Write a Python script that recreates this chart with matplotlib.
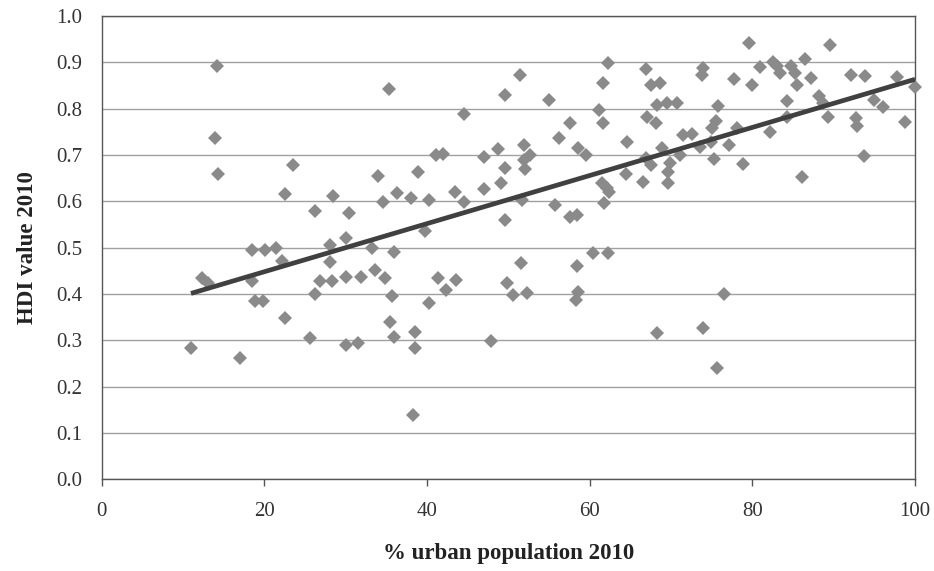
import numpy as np
import matplotlib
matplotlib.use("Agg")
import matplotlib.pyplot as plt

# % urban population 2010 (x) and HDI value 2010 (y)
urban_pct = [
    11.0, 12.3, 13.1, 14.2, 13.9, 14.3, 17.0, 18.5, 18.5, 18.9,
    19.9, 20.1, 21.4, 22.2, 22.6, 22.6, 23.5, 25.6, 26.3, 26.3,
    26.9, 28.1, 28.1, 28.5, 28.3, 30.0, 30.1, 30.4, 30.1, 31.5,
    31.9, 33.2, 33.6, 34.9, 34.0, 34.6, 35.3, 35.7, 35.4, 35.9,
    36.0, 36.3, 38.0, 38.5, 38.5, 38.3, 38.9, 39.8, 40.2, 40.2,
    41.1, 42.0, 41.4, 42.3, 43.6, 43.5, 44.5, 44.6, 47.0, 47.0,
    48.7, 49.1, 49.6, 49.6, 49.6, 49.9, 50.6, 51.6, 52.3, 51.5,
    51.9, 52.7, 51.9, 52.1, 51.7, 47.9, 55.0, 55.8, 56.2, 57.6,
    57.6, 58.5, 58.6, 59.6, 58.5, 60.4, 62.3, 58.6, 58.3, 61.1,
    61.6, 62.2, 61.7, 61.5, 62.1, 62.4, 61.8, 64.6, 64.5, 66.9,
    67.6, 68.7, 67.0, 68.2, 68.3, 69.5, 70.8, 66.6, 66.9, 67.5,
    68.9, 69.9, 69.6, 69.6, 71.1, 71.5, 72.6, 73.6, 73.9, 73.8,
    74.9, 75.0, 75.5, 75.3, 75.8, 77.1, 78.1, 77.7, 78.8, 79.6,
    79.9, 80.9, 82.2, 82.6, 83.0, 83.4, 84.3, 84.2, 84.8, 85.3,
    85.5, 86.5, 87.2, 88.2, 88.7, 89.5, 89.3, 92.1, 92.7, 92.9,
    93.9, 93.7, 95.0, 96.1, 97.8, 98.8, 100.0, 86.1, 68.3, 73.9,
    76.5, 75.6,
]
hdi_value = [
    0.283, 0.434, 0.423, 0.892, 0.737, 0.658, 0.261, 0.495, 0.427, 0.385,
    0.385, 0.495, 0.499, 0.471, 0.615, 0.349, 0.678, 0.304, 0.580, 0.399,
    0.427, 0.506, 0.468, 0.612, 0.427, 0.520, 0.290, 0.574, 0.437, 0.295,
    0.437, 0.499, 0.452, 0.435, 0.655, 0.598, 0.842, 0.396, 0.340, 0.308,
    0.490, 0.619, 0.607, 0.317, 0.283, 0.139, 0.664, 0.537, 0.603, 0.380,
    0.700, 0.702, 0.435, 0.409, 0.430, 0.621, 0.599, 0.788, 0.696, 0.626,
    0.712, 0.639, 0.671, 0.829, 0.560, 0.423, 0.398, 0.467, 0.403, 0.873,
    0.722, 0.700, 0.689, 0.669, 0.603, 0.299, 0.819, 0.591, 0.736, 0.768,
    0.567, 0.570, 0.714, 0.700, 0.460, 0.488, 0.488, 0.404, 0.387, 0.797,
    0.855, 0.898, 0.768, 0.639, 0.628, 0.621, 0.597, 0.727, 0.659, 0.886,
    0.851, 0.855, 0.782, 0.768, 0.808, 0.813, 0.812, 0.642, 0.694, 0.678,
    0.714, 0.682, 0.664, 0.640, 0.701, 0.743, 0.745, 0.718, 0.887, 0.873,
    0.727, 0.758, 0.774, 0.691, 0.806, 0.722, 0.758, 0.863, 0.681, 0.941,
    0.851, 0.889, 0.750, 0.901, 0.891, 0.876, 0.817, 0.783, 0.891, 0.876,
    0.851, 0.907, 0.867, 0.828, 0.812, 0.937, 0.783, 0.873, 0.780, 0.763,
    0.870, 0.698, 0.819, 0.803, 0.869, 0.772, 0.846, 0.653, 0.315, 0.327,
    0.401, 0.240,
]

x_ticks = [0, 20, 40, 60, 80, 100]
y_ticks = [0.0, 0.1, 0.2, 0.3, 0.4, 0.5, 0.6, 0.7, 0.8, 0.9, 1.0]

plt.rcParams['font.family'] = ['Liberation Serif', 'DejaVu Serif']

fig = plt.figure(figsize=(9.34, 5.71), dpi=100)
ax = fig.add_axes([0.1087, 0.1606, 0.871, 0.8114])

x = np.array(urban_pct)
y = np.array(hdi_value)

# linear trend line over the data range
slope, intercept = np.polyfit(x, y, 1)
line_x = np.array([x.min(), x.max()])

ax.plot(x, y, 'D', color='#8a8a8a', markersize=7.6, markeredgewidth=0,
        clip_on=False, zorder=3)
ax.plot(line_x, slope * line_x + intercept, '-', color='#404040',
        linewidth=3.4, solid_capstyle='butt', zorder=4)

ax.set_xlim(0, 100)
ax.set_ylim(0, 1.0)
ax.set_xticks(x_ticks)
ax.set_yticks(y_ticks)
ax.set_yticklabels([f"{v:.1f}" for v in y_ticks])

ax.grid(axis='y', color='#a0a0a0', linewidth=1.0)
ax.set_axisbelow(True)
for side in ['left', 'bottom', 'right', 'top']:
    ax.spines[side].set_color('#555555')
    ax.spines[side].set_linewidth(1.0)

ax.tick_params(axis='x', length=5, width=1, color='#555555', pad=11,
               labelsize=15, labelcolor='#333333')
ax.tick_params(axis='y', length=0, pad=14, labelsize=15, labelcolor='#333333')

ax.set_xlabel('% urban population 2010', fontsize=16.5, fontweight='bold',
              color='#222222', labelpad=16)
ax.set_ylabel('HDI value 2010', fontsize=16.5, fontweight='bold',
              color='#222222', labelpad=13)

fig.savefig('out.png', dpi=100)
